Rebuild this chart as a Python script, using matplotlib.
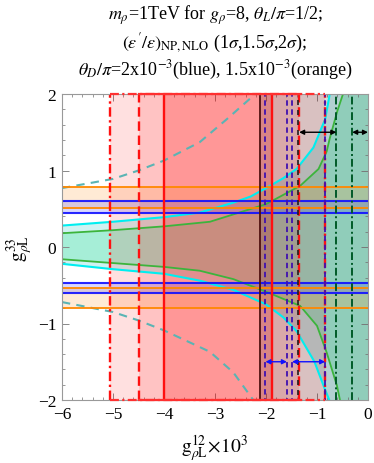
import numpy as np
import matplotlib
matplotlib.use('Agg')
import matplotlib.pyplot as plt
from matplotlib.ticker import MultipleLocator

plt.rcParams['font.family'] = ['Liberation Serif', 'DejaVu Serif']
plt.rcParams['mathtext.fontset'] = 'stix'

# ---------------- data ----------------
# (eps'/eps) allowed ranges in g12 x 10^3 : 1 sigma, 1.5 sigma, 2 sigma
eps_lo = [-4.0, -4.5, -5.05]
eps_hi = [-1.89, -1.35, -0.84]
eps_alpha = [0.22, 0.13, 0.12]
eps_style = ['-', '--', '-.']

# other vertical bound (grey shaded to the right)
grey_lo = -2.11

# horizontal bands in g33
blue_up = [0.44, 0.60]
blue_lo = [-0.60, -0.475]
orange_up = [0.51, 0.79]
orange_lo = [-0.80, -0.54]

# cyan (solid) boundary curves
cyan_up_x = [-6.0, -5.0, -4.0, -3.3, -2.64, -2.3, -1.92, -1.66, -1.4, -1.07, -0.84, -0.75]
cyan_up_y = [0.28, 0.33, 0.39, 0.45, 0.58, 0.66, 0.80, 0.90, 1.02, 1.30, 1.67, 2.0]
cyan_lo_x = [-6.0, -5.0, -4.0, -3.3, -2.64, -2.0, -1.66, -1.4, -1.05, -0.85, -0.76]
cyan_lo_y = [-0.22, -0.29, -0.35, -0.44, -0.56, -0.75, -0.92, -1.1, -1.5, -1.85, -2.0]

# green boundary curves
green_up_x = [-6.0, -5.0, -4.0, -3.1, -2.0, -1.33, -0.97, -0.81, -0.75, -0.6, -0.49]
green_up_y = [0.18, 0.22, 0.27, 0.33, 0.56, 0.80, 1.02, 1.25, 1.42, 1.78, 2.0]
green_lo_x = [-6.0, -5.0, -4.0, -3.3, -2.64, -1.98, -1.33, -1.0, -0.81, -0.61, -0.55]
green_lo_y = [-0.16, -0.21, -0.26, -0.31, -0.42, -0.59, -0.77, -1.03, -1.38, -1.81, -2.0]

# dashed teal curves
teal_up_x = [-6.0, -5.0, -4.5, -4.0, -3.3, -2.77, -2.21]
teal_up_y = [0.77, 0.89, 1.0, 1.13, 1.37, 1.67, 2.0]
teal_lo_x = [-6.0, -5.0, -4.5, -4.0, -3.1, -2.64, -2.25]
teal_lo_y = [-0.72, -0.85, -0.96, -1.09, -1.37, -1.64, -2.0]

# extra vertical lines
blue_vlines = [-2.01, -1.59, -1.49, -0.84]
black_dashed = [-1.38]
green_vlines = [-0.62, -0.31]

# arrows (x ranges) and heights
blue_arrows = [(-2.01, -1.59), (-1.49, -0.84)]
blue_arrow_y = -1.5
black_arrows = [(-1.35, -0.62), (-0.31, 0.0)]
black_arrow_y = 1.5

# ---------------- figure ----------------
fig = plt.figure(figsize=(3.74, 4.64), dpi=100)
ax = fig.add_axes([62/374, 1-401/464, (368-62)/374, (401-95)/464])
ax.set_xlim(-6, 0)
ax.set_ylim(-2, 2)

# cyan region
px = cyan_up_x + [0.0, 0.0] + cyan_lo_x[::-1]
py = cyan_up_y + [2.0, -2.0] + cyan_lo_y[::-1]
ax.fill(px, py, color='#a8e8e8', alpha=0.55, lw=0, zorder=1)
# green region
px = green_up_x + [0.0, 0.0] + green_lo_x[::-1]
py = green_up_y + [2.0, -2.0] + green_lo_y[::-1]
ax.fill(px, py, color='#50e8a0', alpha=0.32, lw=0, zorder=1)

# red eps'/eps regions
for lo, hi, a in zip(eps_lo, eps_hi, eps_alpha):
    ax.axvspan(lo, hi, color='#ff0000', alpha=a, lw=0, zorder=2)
# grey region
ax.axvspan(grey_lo, 0, color='#303838', alpha=0.18, lw=0, zorder=2)

# horizontal bands
for b in (orange_up, orange_lo):
    ax.axhspan(b[0], b[1], color='#ffa040', alpha=0.22, lw=0, zorder=3)
    for yv in b:
        ax.axhline(yv, color='#ff8800', lw=1.3, zorder=6)
for b in (blue_up, blue_lo):
    ax.axhspan(b[0], b[1], color='#4040ff', alpha=0.2, lw=0, zorder=3)
    for yv in b:
        ax.axhline(yv, color='#1010ff', lw=1.5, alpha=0.9, zorder=6)

# curves
ax.plot(cyan_up_x, cyan_up_y, color='#00eef0', lw=1.5, zorder=5)
ax.plot(cyan_lo_x, cyan_lo_y, color='#00eef0', lw=1.5, zorder=5)
ax.plot(green_up_x, green_up_y, color='#3cb43c', lw=1.3, zorder=5)
ax.plot(green_lo_x, green_lo_y, color='#3cb43c', lw=1.3, zorder=5)
ax.plot(teal_up_x, teal_up_y, color='#5ab4b4', lw=1.5, ls=(0, (4, 3)), zorder=5)
ax.plot(teal_lo_x, teal_lo_y, color='#5ab4b4', lw=1.5, ls=(0, (4, 3)), zorder=5)

# vertical lines
for lo, hi, st in zip(eps_lo, eps_hi, eps_style):
    dash = {'-': '-', '--': (0, (4, 2)), '-.': (0, (4, 1.5, 1, 1.5))}[st]
    for xv in (lo, hi):
        ax.axvline(xv, color='#ff1010', lw=1.7, ls=dash, zorder=7)
ax.axvline(grey_lo, color='#501010', lw=1.3, zorder=7)
for xv in blue_vlines:
    ax.axvline(xv, color='#4010b0', lw=1.3, ls=(2, (3, 2)), zorder=8)
for xv in black_dashed:
    ax.axvline(xv, color='#202020', lw=1.2, ls=(3, (3, 3)), zorder=8)
for xv in green_vlines:
    ax.axvline(xv, color='#005a28', lw=1.4, ls=(0, (4, 1.5, 1, 1.5)), zorder=8)

# top/bottom red edges on eps region
for yv in (2, -2):
    ax.plot([eps_lo[2], eps_hi[2]], [yv, yv], color='#ff3030', lw=1.6,
            ls=(0, (4, 1.5, 1, 1.5)), zorder=11, clip_on=False)
    ax.plot([eps_lo[1], eps_hi[1]], [yv, yv], color='#ff3030', lw=1.6, zorder=11, clip_on=False)

# arrows
for a0, a1 in blue_arrows:
    ax.annotate('', xy=(a0, blue_arrow_y), xytext=(a1, blue_arrow_y),
                arrowprops=dict(arrowstyle='<|-|>', color='#1010ff', lw=1.0,
                                mutation_scale=7, shrinkA=0, shrinkB=0), zorder=9)
for a0, a1 in black_arrows:
    ax.annotate('', xy=(a0, black_arrow_y), xytext=(a1, black_arrow_y),
                arrowprops=dict(arrowstyle='<|-|>', color='black', lw=1.0,
                                mutation_scale=7, shrinkA=0, shrinkB=0), zorder=9)

# ticks
ax.xaxis.set_major_locator(MultipleLocator(1))
ax.xaxis.set_minor_locator(MultipleLocator(0.2))
ax.yaxis.set_major_locator(MultipleLocator(1))
ax.yaxis.set_minor_locator(MultipleLocator(0.2))
ax.tick_params(which='both', direction='in', top=True, right=True, color='#888888',
               labelsize=12.5, pad=4)
ax.tick_params(which='major', length=5, width=0.7)
ax.tick_params(which='minor', length=2.5, width=0.6)
for s in ax.spines.values():
    s.set_color('#999999')
    s.set_linewidth(0.8)
    s.set_zorder(10)
ax.set_xticks([-6, -5, -4, -3, -2, -1, 0])
ax.set_xticklabels(['\u22126', '\u22125', '\u22124', '\u22123', '\u22122', '\u22121', '0'])
ax.set_yticks([-2, -1, 0, 1, 2])
ax.set_yticklabels(['\u22122', '\u22121', '0', '1', '2'])

ax.set_xlabel(r'$\mathrm{g}^{12}_{\rho\mathrm{L}}\!\times\!10^3$', fontsize=14, labelpad=8)
ax.set_ylabel(r'$\mathrm{g}^{33}_{\rho\mathrm{L}}$', fontsize=14, labelpad=2)

cx = 215/374
fig.text(cx, 1-15/464, r'$m_\rho$=1TeV for $g_\rho$=8, $\theta_L/\pi$=1/2;', ha='center', va='center', fontsize=13)
fig.text(cx, 1-43/464, r"$(\varepsilon'/\varepsilon)_{\rm NP,NLO}$ (1$\sigma$,1.5$\sigma$,2$\sigma$);", ha='center', va='center', fontsize=13)
fig.text(cx, 1-70/464, r'$\theta_D/\pi$=2x10$^{-3}$(blue), 1.5x10$^{-3}$(orange)', ha='center', va='center', fontsize=13)

fig.savefig('out.png', dpi=100)
